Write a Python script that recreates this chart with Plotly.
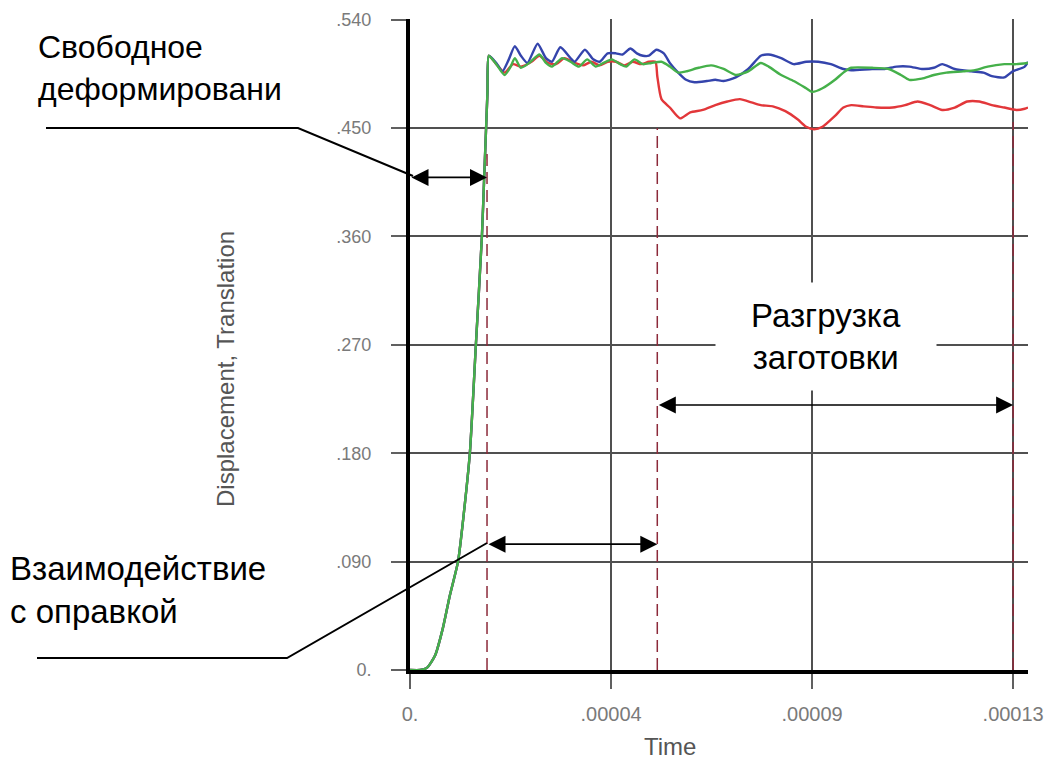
import plotly.graph_objects as go

# ---------------- data (time in microseconds, displacement) ----------------
rise_t = [0, 2.2, 3.7, 5.4, 7.1, 8.6, 10.35, 11.6, 12.9, 14.2, 15.5, 16.0, 16.4, 16.7]
rise_v = [0, 0, 0.002, 0.012, 0.035, 0.062, 0.09, 0.13, 0.18, 0.27, 0.36, 0.41, 0.45, 0.48]

blue_t = [17.0, 18.6, 19.9, 21.3, 22.6, 23.9, 25.3, 27.5, 29.3, 30.6, 32.4, 34.6, 35.5, 37.7, 39.5,
          40.9, 42.6, 44.4, 45.8, 47.5, 48.9, 50.2, 51.5, 53.1, 54.7, 56.0, 57.8, 59.5, 61.3, 64.0,
          65.8, 67.6, 70.2, 72.9, 75.6, 77.3, 80.0, 82.7, 85.4, 88.0, 90.7, 93.4, 95.1, 99.6, 102.3,
          104.9, 107.6, 110.3, 112.9, 114.7, 117.4, 121.0, 123.6, 125.4, 128.1, 129.9, 132.5, 133.2]
blue_v = [0.510, 0.504, 0.497, 0.507, 0.518, 0.510, 0.504, 0.520, 0.508, 0.505, 0.517, 0.508, 0.505, 0.515, 0.507,
          0.505, 0.512, 0.512, 0.511, 0.516, 0.512, 0.510, 0.510, 0.515, 0.512, 0.504, 0.496, 0.490, 0.488, 0.489,
          0.490, 0.489, 0.492, 0.499, 0.510, 0.511, 0.508, 0.503, 0.505, 0.505, 0.503, 0.499, 0.498, 0.499, 0.499,
          0.501, 0.501, 0.499, 0.500, 0.503, 0.499, 0.497, 0.496, 0.493, 0.492, 0.497, 0.501, 0.505]

green_t = [17.0, 18.6, 20.4, 21.7, 22.6, 23.9, 25.7, 27.9, 29.3, 30.6, 32.8, 34.6, 36.4, 38.2, 40.0,
           41.7, 43.5, 45.3, 46.6, 48.4, 50.2, 52.0, 54.2, 56.0, 57.8, 59.5, 62.2, 64.9, 67.6, 70.2,
           72.9, 75.6, 77.3, 80.0, 82.7, 85.4, 86.7, 88.9, 91.6, 93.4, 95.1, 99.6, 103.2, 105.8, 107.6,
           110.3, 112.9, 115.6, 119.2, 121.8, 124.5, 128.1, 130.7, 133.2]
green_v = [0.510, 0.503, 0.494, 0.501, 0.508, 0.500, 0.504, 0.511, 0.504, 0.501, 0.508, 0.505, 0.501, 0.507, 0.501,
           0.504, 0.507, 0.503, 0.501, 0.507, 0.503, 0.504, 0.505, 0.501, 0.496, 0.497, 0.500, 0.502, 0.499, 0.494,
           0.497, 0.504, 0.501, 0.494, 0.489, 0.483, 0.480, 0.483, 0.490, 0.496, 0.500, 0.500, 0.499, 0.494, 0.490,
           0.491, 0.494, 0.496, 0.497, 0.498, 0.501, 0.503, 0.503, 0.504]

red_t = [17.0, 18.6, 20.4, 22.2, 23.9, 26.2, 27.9, 29.7, 31.5, 33.3, 35.5, 37.3, 39.1, 40.9, 42.6,
         44.4, 46.2, 48.0, 49.8, 51.5, 52.9, 53.3, 54.2, 56.0, 58.2, 60.4, 63.1, 65.8, 68.4, 71.1,
         73.8, 75.6, 78.2, 80.9, 83.6, 85.4, 87.1, 88.9, 91.6, 93.4, 95.1, 97.8, 100.5, 104.0, 106.7,
         109.4, 112.1, 114.7, 117.4, 120.1, 122.7, 125.4, 128.1, 130.7, 132.5, 133.2]
red_v = [0.510, 0.503, 0.496, 0.503, 0.501, 0.505, 0.510, 0.504, 0.503, 0.508, 0.504, 0.502, 0.505, 0.502, 0.505,
         0.505, 0.502, 0.505, 0.503, 0.505, 0.505, 0.493, 0.474, 0.467, 0.458, 0.463, 0.465, 0.469, 0.472, 0.474,
         0.471, 0.469, 0.468, 0.464, 0.457, 0.451, 0.449, 0.451, 0.460, 0.467, 0.469, 0.468, 0.467, 0.467, 0.469,
         0.472, 0.469, 0.465, 0.467, 0.472, 0.472, 0.469, 0.467, 0.465, 0.466, 0.467]

# phase boundaries (microseconds) and the top of their dashed markers
phase_t = [16.6, 53.3, 130.0]
phase_top = [0.43, 0.45, 0.455]
# heights of the double arrows for the three phases
arrow_v = [0.409, 0.1045, 0.22]

y_ticks = [0, 0.09, 0.18, 0.27, 0.36, 0.45, 0.54]
y_ticktext = ["0.", ".090", ".180", ".270", ".360", ".450", ".540"]
x_ticks_us = [0, 43.333, 86.667, 130.0]
x_ticktext = ["0.", ".00004", ".00009", ".00013"]

US = 1e-6

# ---------------- layout geometry ----------------
W, H = 1047, 761
L, R, T, B = 410, 19, 19, 91
PW, PH = W - L - R, H - T - B


def px(xp):
    return (xp - L) / PW


def py(yp):
    return (H - B - yp) / PH


FONT = "Liberation Sans, Arial, sans-serif"

fig = go.Figure()

series = [
    (red_t, red_v, "#e2373a"),
    (blue_t, blue_v, "#3444ac"),
    (green_t, green_v, "#45b04a"),
]
for t, v, c in series:
    fig.add_trace(go.Scatter(
        x=[a * US for a in rise_t + t], y=rise_v + v, mode="lines",
        line=dict(color=c, width=2.4, shape="spline", smoothing=0.6),
        showlegend=False, hoverinfo="skip"))

# dashed phase markers
for t, top in zip(phase_t, phase_top):
    fig.add_trace(go.Scatter(
        x=[t * US, t * US], y=[0, top], mode="lines",
        line=dict(color="#8c2a3a", width=1.5, dash="12px,6px"),
        showlegend=False, hoverinfo="skip"))

annotations = []
# double arrows
arrow_spans = [(0.0, phase_t[0]), (phase_t[0], phase_t[1]), (phase_t[1], phase_t[2])]
for (a, b), yv in zip(arrow_spans, arrow_v):
    annotations.append(dict(
        x=b * US, y=yv, ax=a * US, ay=yv, xref="x", yref="y", axref="x", ayref="y",
        text="", showarrow=True, arrowside="end+start", arrowhead=2, startarrowhead=2,
        arrowsize=2.0, startarrowsize=2.0, arrowwidth=1.7, arrowcolor="black",
        standoff=0, startstandoff=0))

# texts
annotations += [
    dict(x=px(36), y=py(27), xref="paper", yref="paper", xanchor="left", yanchor="top",
         text="Свободное<br>деформировани", showarrow=False, align="left",
         font=dict(family=FONT, size=32, color="black")),
    dict(x=px(8), y=py(548), xref="paper", yref="paper", xanchor="left", yanchor="top",
         text="Взаимодействие<br>с оправкой", showarrow=False, align="left",
         font=dict(family=FONT, size=33, color="black")),
    dict(x=px(826), y=py(336), xref="paper", yref="paper", xanchor="center", yanchor="middle",
         text="Разгрузка<br>заготовки", showarrow=False, align="center",
         width=218, height=105, bgcolor="white",
         font=dict(family=FONT, size=33, color="black")),
    dict(x=px(670), y=py(747), xref="paper", yref="paper", xanchor="center", yanchor="middle",
         text="Time", showarrow=False, font=dict(family=FONT, size=24, color="#555555")),
    dict(x=px(225), y=py(369), xref="paper", yref="paper", xanchor="center", yanchor="middle",
         text="Displacement, Translation", textangle=-90, showarrow=False,
         font=dict(family=FONT, size=24, color="#555555")),
]

shapes = [
    # leader for the free-deformation label
    dict(type="path", xref="paper", yref="paper",
         path=f"M {px(46)} {py(128)} L {px(298)} {py(128)} L {px(413)} {py(176)}",
         line=dict(color="black", width=2)),
    # leader for the interaction label
    dict(type="path", xref="paper", yref="paper",
         path=f"M {px(37)} {py(658)} L {px(287)} {py(658)} L {px(487)} {py(543)}",
         line=dict(color="black", width=2)),
]

axis_common = dict(
    showline=True, linecolor="black", linewidth=4, mirror=False, automargin=False,
    showgrid=True, gridcolor="#505050", gridwidth=1.5, zeroline=False,
    ticks="outside", ticklen=15, tickwidth=1.5, tickcolor="#606060",
)

fig.update_layout(
    width=W, height=H, autosize=False,
    margin=dict(l=L, r=R, t=T, b=B, pad=0, autoexpand=False),
    paper_bgcolor="white", plot_bgcolor="white",
    showlegend=False,
    xaxis=dict(range=[0, 133.2 * US], tickvals=[v * US for v in x_ticks_us], ticktext=x_ticktext,
               tickfont=dict(family=FONT, size=20, color="#7a7a7a"), ticklabelstandoff=8,
               **axis_common),
    yaxis=dict(range=[0, 0.5405], tickvals=y_ticks, ticktext=y_ticktext,
               tickfont=dict(family=FONT, size=18, color="#7a7a7a"), ticklabelstandoff=16,
               **axis_common),
    annotations=annotations,
    shapes=shapes,
)

fig.write_html("out.html")
